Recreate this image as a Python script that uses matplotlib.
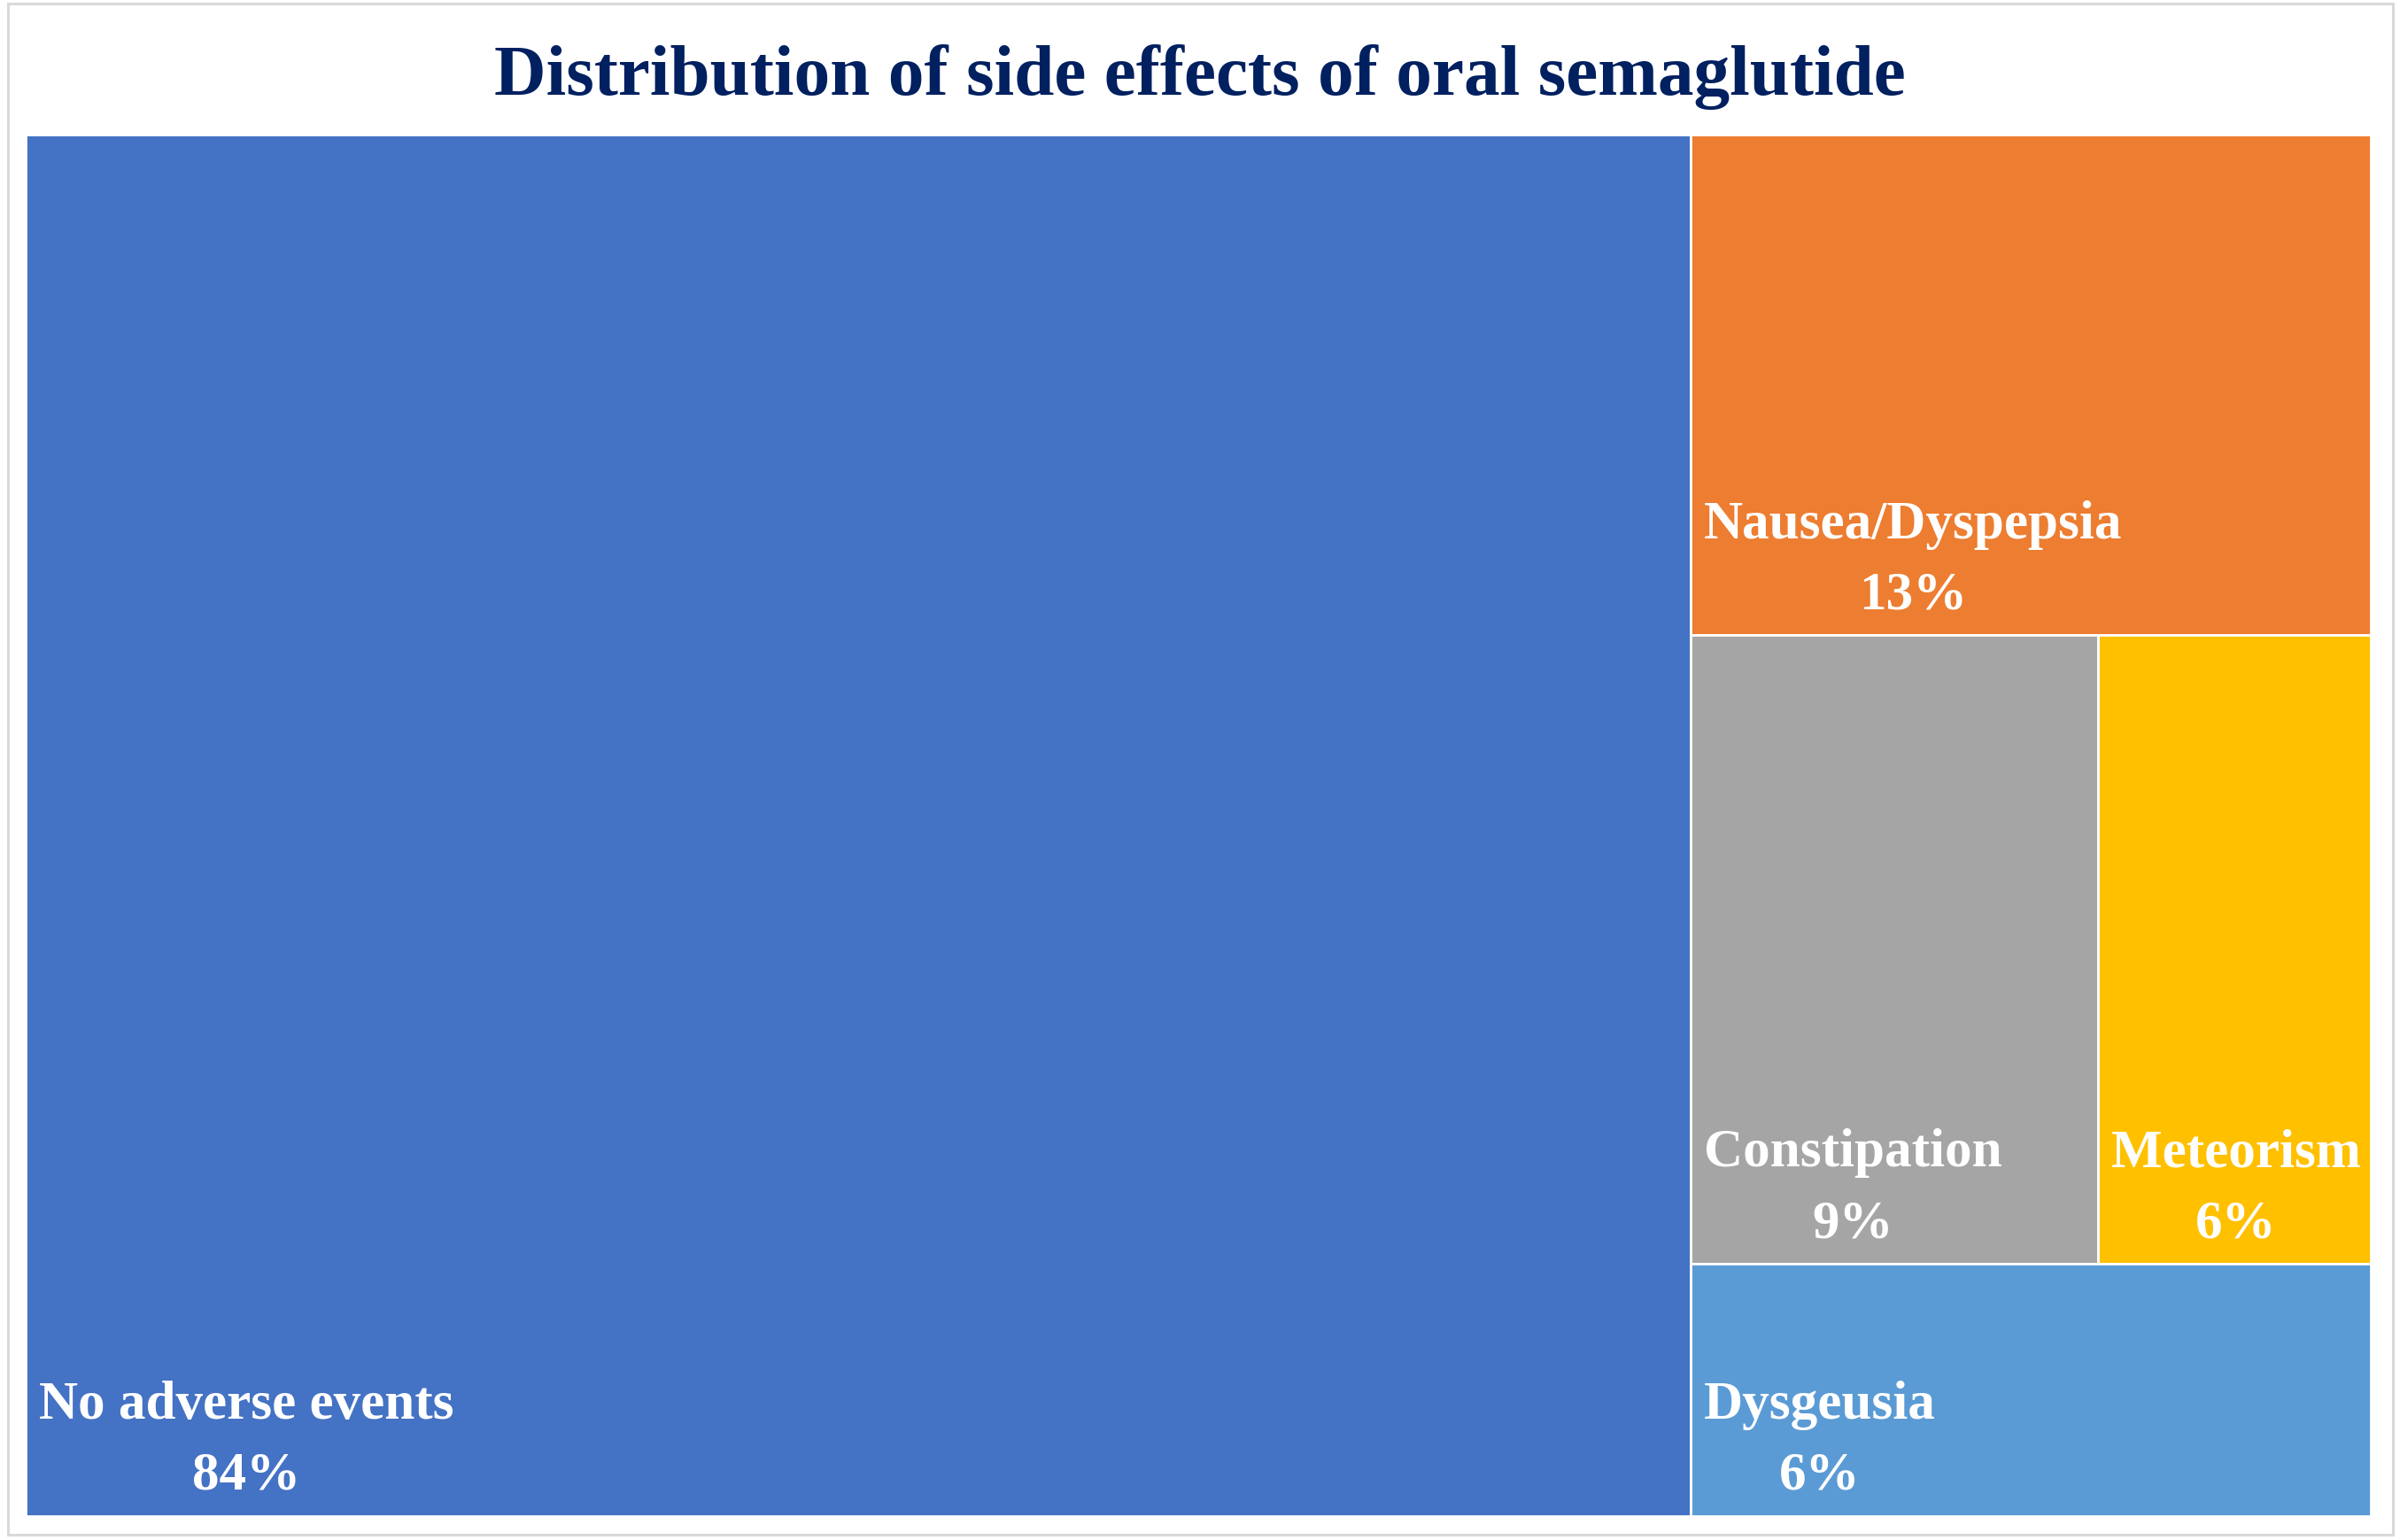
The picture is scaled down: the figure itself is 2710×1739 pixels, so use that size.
import matplotlib.pyplot as plt
from matplotlib.patches import Rectangle

# treemap data (percent of patients)
labels = ['No adverse events', 'Nausea/Dyspepsia', 'Constipation', 'Meteorism', 'Dysgeusia']
values = [84.4, 12.5, 9.4, 6.3, 6.3]
colors = ['#4472C4', '#ED7D31', '#A5A5A5', '#FFC000', '#5B9BD5']

# how the tiles are grouped: columns -> rows -> tiles (indices into values)
groups = [[[0]], [[1], [2, 3], [4]]]

W, H = 2710, 1739
box = (29, 152, 2677, 1712)  # left, top, right, bottom in pixels


def layout(values, groups, box):
    left, top, right, bottom = box
    total = sum(values)
    rects = {}
    x = left
    for col in groups:
        col_sum = sum(values[i] for row in col for i in row)
        cw = (right - left) * col_sum / total
        y = top
        for row in col:
            row_sum = sum(values[i] for i in row)
            rh = (bottom - top) * row_sum / col_sum
            xx = x
            for i in row:
                tw = cw * values[i] / row_sum
                rects[i] = (xx, y, tw, rh)
                xx += tw
            y += rh
        x += cw
    return rects


def fmt(v):
    return '%d%%' % int(v + 0.5)


fig = plt.figure(figsize=(W / 100, H / 100), dpi=100)
ax = fig.add_axes([0, 0, 1, 1])
ax.set_xlim(0, W)
ax.set_ylim(H, 0)
ax.axis('off')

# chart border
ax.add_patch(Rectangle((9, 4), 2693, 1729, fill=False, edgecolor='#D9D9D9', lw=2.2))

ax.text(1355, 107, 'Distribution of side effects of oral semaglutide',
        ha='center', va='baseline', fontsize=58.5, fontweight='bold',
        family='Liberation Serif', color='#002060')

rects = layout(values, groups, box)
for i, (x, y, w, h) in rects.items():
    ax.add_patch(Rectangle((x, y), w, h, facecolor=colors[i], edgecolor='white', lw=2.0))
    ax.text(x + 15, y + h - 17, labels[i] + '\n' + fmt(values[i]),
            ha='left', va='bottom', multialignment='center', linespacing=1.55,
            fontsize=44, fontweight='bold', family='Liberation Serif', color='white')

fig.savefig('out.png', dpi=100)
